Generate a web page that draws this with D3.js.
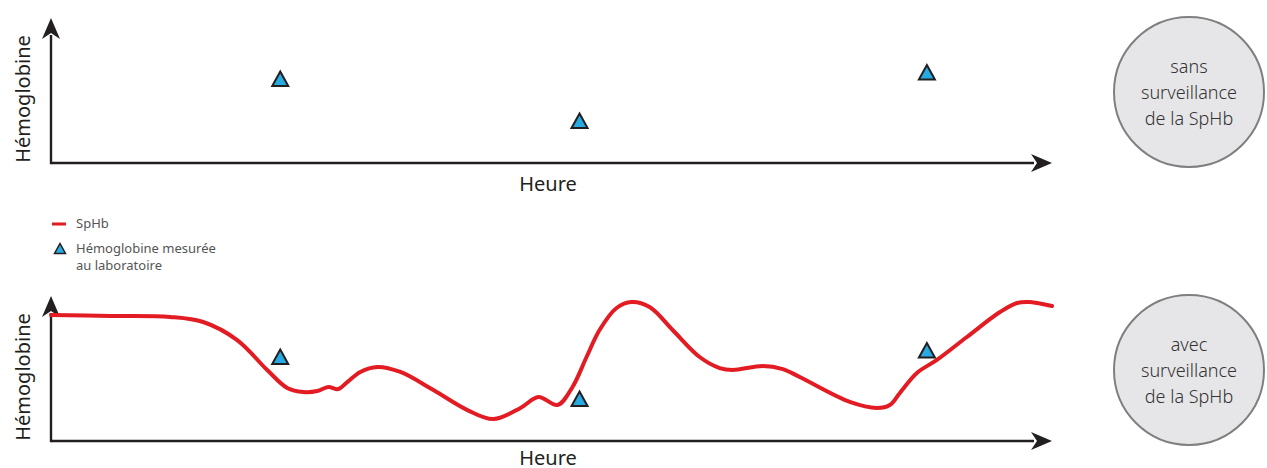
<!DOCTYPE html>
<html>
<head>
<meta charset="utf-8">
<script src="https://cdn.jsdelivr.net/npm/d3@7"></script>
<style>
  body { margin: 0; background: #fff; }
  text { font-family: "Noto Sans", sans-serif; }
</style>
</head>
<body>
<div id="chart"></div>
<script>
// lab measurements (time, hemoglobin) - same in both panels
var labTime = [22.9, 52.8, 87.5];
var labValue = [58.6, 28.6, 63.2];

// continuous SpHb trace for the lower panel
var sphbTime = [0, 6, 11.9, 15.2, 18.6, 21.6, 23.6, 25.2, 26.6, 27.7, 28.7, 29.6, 30.9, 32.6, 34.9,
  38.2, 41.6, 44.2, 46.9, 48.7, 50.6, 52.1, 53.5, 54.8, 56.5, 58.0, 59.8, 62.1, 64.8, 66.8,
  68.1, 71.1, 73.1, 74.8, 79.8, 82.5, 83.8, 84.8, 86.5, 88.5, 91.5, 94.8, 96.5, 97.8, 100];
var sphbValue = [90, 89.3, 88.6, 85, 72.1, 50.7, 37.9, 35, 35.7, 38.6, 37.1, 42.1, 49.3, 52.9, 49.3,
  36.4, 22.1, 15.7, 23.6, 31.4, 25.7, 38.6, 60, 79.3, 95, 99.3, 95.7, 79.3, 60, 52.1,
  50.7, 53.6, 51.4, 45.7, 27.9, 23.6, 25.7, 34.3, 48.6, 57.9, 74.3, 92.1, 98.6, 99.3, 96.4];

var panelLabels = [["sans", "surveillance", "de la SpHb"], ["avec", "surveillance", "de la SpHb"]];
var yTitle = "Hémoglobine";
var xTitle = "Heure";
var legendItems = ["SpHb", "Hémoglobine mesurée", "au laboratoire"];

var W = 1267, H = 468;
var axisColor = "#231f20", red = "#e31b23", blue = "#27a9e1";

var svg = d3.select("#chart").append("svg")
  .attr("width", W).attr("height", H);

var x = d3.scaleLinear().domain([0, 100]).range([51, 1052]);

var labs = labTime.map(function(t, i) { return { t: t, v: labValue[i] }; });
var trace = sphbTime.map(function(t, i) { return { t: t, v: sphbValue[i] }; });

function drawPanel(base, idx) {
  var y = d3.scaleLinear().domain([0, 100]).range([base, base - 140]);
  var g = svg.append("g");

  // axes with notched arrow heads
  g.append("line").attr("x1", x(0)).attr("x2", 1034).attr("y1", base).attr("y2", base)
    .attr("stroke", axisColor).attr("stroke-width", 2.4);
  g.append("line").attr("x1", x(0)).attr("x2", x(0)).attr("y1", base + 1.2).attr("y2", base - 128)
    .attr("stroke", axisColor).attr("stroke-width", 2.4);
  var tx = 1052, ty = base;
  g.append("path")
    .attr("d", "M" + tx + "," + ty + "L" + (tx - 21) + "," + (ty - 9) + "L" + (tx - 15) + "," + ty +
      "L" + (tx - 21) + "," + (ty + 9) + "Z")
    .attr("fill", axisColor);
  var ax = x(0), ay = base - 145;
  g.append("path")
    .attr("d", "M" + ax + "," + ay + "L" + (ax - 9) + "," + (ay + 21) + "L" + ax + "," + (ay + 15) +
      "L" + (ax + 9) + "," + (ay + 21) + "Z")
    .attr("fill", axisColor);

  // titles
  g.append("text")
    .attr("transform", "translate(30," + (base - 64) + ") rotate(-90)")
    .attr("text-anchor", "middle")
    .attr("font-size", 20).attr("fill", "#231f20")
    .text(yTitle);
  g.append("text")
    .attr("x", 548).attr("y", base + (idx === 0 ? 28 : 23.5))
    .attr("text-anchor", "middle")
    .attr("font-size", 20).attr("fill", "#231f20")
    .text(xTitle);

  if (idx === 1) {
    var line = d3.line()
      .x(function(d) { return x(d.t); })
      .y(function(d) { return y(d.v); })
      .curve(d3.curveCatmullRom.alpha(0.5));
    g.append("path").datum(trace)
      .attr("d", line)
      .attr("fill", "none")
      .attr("stroke", red).attr("stroke-width", 4)
      .attr("stroke-linejoin", "round").attr("stroke-linecap", "round");
  }

  g.selectAll(".lab").data(labs).enter().append("path")
    .attr("class", "lab")
    .attr("transform", function(d) { return "translate(" + x(d.t) + "," + y(d.v) + ")"; })
    .attr("d", "M0,-9.5L8,5L-8,5Z")
    .attr("fill", blue).attr("stroke", axisColor).attr("stroke-width", 2)
    .attr("stroke-linejoin", "miter");

  // side badge
  var cy = base - 71;
  g.append("circle").attr("cx", 1189).attr("cy", cy).attr("r", 75)
    .attr("fill", "#e6e6e8").attr("stroke", "#7f7f7f").attr("stroke-width", 2);
  g.selectAll(".badge").data(panelLabels[idx]).enter().append("text")
    .attr("x", 1189)
    .attr("y", function(d, i) { return cy - 19 + i * 26; })
    .attr("text-anchor", "middle")
    .attr("font-size", 18).attr("font-weight", 300).attr("fill", "#333")
    .text(function(d) { return d; });
}

drawPanel(163, 0);
drawPanel(441, 1);

// legend
var lg = svg.append("g");
lg.append("line").attr("x1", 52).attr("x2", 66).attr("y1", 224).attr("y2", 224)
  .attr("stroke", red).attr("stroke-width", 3);
lg.append("path").attr("transform", "translate(60,250)")
  .attr("d", "M0,-6.5L5.5,3.5L-5.5,3.5Z")
  .attr("fill", blue).attr("stroke", axisColor).attr("stroke-width", 1.5);
lg.selectAll("text").data(legendItems).enter().append("text")
  .attr("x", 76)
  .attr("y", function(d, i) { return [228, 253, 269.5][i]; })
  .attr("font-size", 13).attr("fill", "#555")
  .text(function(d) { return d; });
</script>
</body>
</html>
